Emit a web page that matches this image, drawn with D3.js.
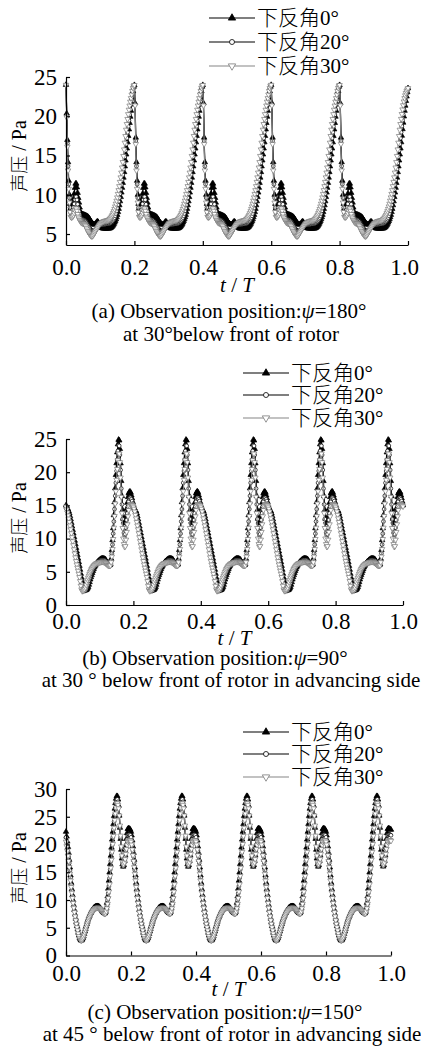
<!DOCTYPE html>
<html>
<meta charset="utf-8">
<script src="https://d3js.org/d3.v7.min.js"></script>
<style>
  body { margin: 0; background: #fff; }
  svg text { font-family: "Liberation Serif", "Times New Roman", serif; fill: #000; }
  svg .cjk { font-family: "Noto Sans CJK SC", sans-serif; font-weight: 300; }
</style>
<body>
<script>

// ---- data (t / T and sound pressure in Pa) ----
var legendNames = ["下反角0°", "下反角20°", "下反角30°"];
var xTicks = [0, 0.2, 0.4, 0.6, 0.8, 1.0];

// (a) psi = 180
var tA = [0, .005, .01, .015, .022, .029, .036, .044, .055, .066, .076, .084, .092, .1, .11, .125, .14, .152, .165, .178, .19,
  .2, .205, .21, .215, .222, .229, .236, .244, .255, .266, .276, .284, .292, .3, .31, .325, .34, .352, .365, .378, .39,
  .4, .405, .41, .415, .422, .429, .436, .444, .455, .466, .476, .484, .492, .5, .51, .525, .54, .552, .565, .578, .59,
  .6, .605, .61, .615, .622, .629, .636, .644, .655, .666, .676, .684, .692, .7, .71, .725, .74, .752, .765, .778, .79,
  .8, .805, .81, .815, .822, .829, .836, .844, .855, .866, .876, .884, .892, .9, .91, .925, .94, .952, .965, .978, .99,
  1.0];
var pA0 = [24.0, 15.5, 10.0, 8.2, 9.5, 11.5, 9.6, 7.6, 7.4, 7.1, 6.4, 6.2, 6.6, 6.0, 5.7, 5.7, 6.3, 7.8, 11.2, 15.9, 20.7,
  24.0, 15.5, 10.0, 8.2, 9.5, 11.5, 9.6, 7.6, 7.4, 7.1, 6.4, 6.2, 6.6, 6.0, 5.7, 5.7, 6.3, 7.8, 11.2, 15.9, 20.7,
  24.0, 15.5, 10.0, 8.2, 9.5, 11.5, 9.6, 7.6, 7.4, 7.1, 6.4, 6.2, 6.6, 6.0, 5.7, 5.7, 6.3, 7.8, 11.2, 15.9, 20.7,
  24.0, 15.5, 10.0, 8.2, 9.5, 11.5, 9.6, 7.6, 7.4, 7.1, 6.4, 6.2, 6.6, 6.0, 5.7, 5.7, 6.3, 7.8, 11.2, 15.9, 20.7,
  24.0, 15.5, 10.0, 8.2, 9.5, 11.5, 9.6, 7.6, 7.4, 7.1, 6.4, 6.2, 6.6, 6.0, 5.7, 5.7, 6.3, 7.8, 11.2, 15.9, 20.7,
  23.6];
var pA20 = [24.0, 15.0, 9.6, 7.6, 8.4, 9.8, 8.3, 7.0, 6.7, 6.0, 5.4, 5.4, 5.9, 6.1, 6.2, 6.3, 6.9, 8.7, 12.2, 17.2, 21.5,
  24.0, 15.0, 9.6, 7.6, 8.4, 9.8, 8.3, 7.0, 6.7, 6.0, 5.4, 5.4, 5.9, 6.1, 6.2, 6.3, 6.9, 8.7, 12.2, 17.2, 21.5,
  24.0, 15.0, 9.6, 7.6, 8.4, 9.8, 8.3, 7.0, 6.7, 6.0, 5.4, 5.4, 5.9, 6.1, 6.2, 6.3, 6.9, 8.7, 12.2, 17.2, 21.5,
  24.0, 15.0, 9.6, 7.6, 8.4, 9.8, 8.3, 7.0, 6.7, 6.0, 5.4, 5.4, 5.9, 6.1, 6.2, 6.3, 6.9, 8.7, 12.2, 17.2, 21.5,
  24.0, 15.0, 9.6, 7.6, 8.4, 9.8, 8.3, 7.0, 6.7, 6.0, 5.4, 5.4, 5.9, 6.1, 6.2, 6.3, 6.9, 8.7, 12.2, 17.2, 21.5,
  23.6];
var pA30 = [24.0, 14.5, 9.0, 7.1, 7.4, 8.3, 7.2, 6.5, 6.2, 5.2, 4.7, 5.2, 5.8, 6.3, 6.6, 6.8, 7.9, 10.1, 13.8, 19.0, 22.3,
  24.0, 14.5, 9.0, 7.1, 7.4, 8.3, 7.2, 6.5, 6.2, 5.2, 4.7, 5.2, 5.8, 6.3, 6.6, 6.8, 7.9, 10.1, 13.8, 19.0, 22.3,
  24.0, 14.5, 9.0, 7.1, 7.4, 8.3, 7.2, 6.5, 6.2, 5.2, 4.7, 5.2, 5.8, 6.3, 6.6, 6.8, 7.9, 10.1, 13.8, 19.0, 22.3,
  24.0, 14.5, 9.0, 7.1, 7.4, 8.3, 7.2, 6.5, 6.2, 5.2, 4.7, 5.2, 5.8, 6.3, 6.6, 6.8, 7.9, 10.1, 13.8, 19.0, 22.3,
  24.0, 14.5, 9.0, 7.1, 7.4, 8.3, 7.2, 6.5, 6.2, 5.2, 4.7, 5.2, 5.8, 6.3, 6.6, 6.8, 7.9, 10.1, 13.8, 19.0, 22.3,
  23.6];

// (b) psi = 90
var tB = [0, .01, .02, .03, .04, .048, .056, .064, .074, .086, .098, .108, .116, .124, .131, .137, .143, .149, .154, .157, .16, .165, .17, .175, .18, .186, .19, .195,
  .2, .21, .22, .23, .24, .248, .256, .264, .274, .286, .298, .308, .316, .324, .331, .337, .343, .349, .354, .357, .36, .365, .37, .375, .38, .386, .39, .395,
  .4, .41, .42, .43, .44, .448, .456, .464, .474, .486, .498, .508, .516, .524, .531, .537, .543, .549, .554, .557, .56, .565, .57, .575, .58, .586, .59, .595,
  .6, .61, .62, .63, .64, .648, .656, .664, .674, .686, .698, .708, .716, .724, .731, .737, .743, .749, .754, .757, .76, .765, .77, .775, .78, .786, .79, .795,
  .8, .81, .82, .83, .84, .848, .856, .864, .874, .886, .898, .908, .916, .924, .931, .937, .943, .949, .954, .957, .96, .965, .97, .975, .98, .986, .99, .995,
  1.0];
var pB0 = [15.0, 13.8, 11.3, 8.6, 5.9, 3.6, 2.2, 2.5, 4.2, 5.9, 6.7, 7.0, 6.9, 6.2, 6.0, 9.0, 14.5, 20.5, 24.2, 25.0, 23.5, 17.5, 13.0, 12.3, 14.5, 16.8, 17.1, 16.3,
  15.0, 13.8, 11.3, 8.6, 5.9, 3.6, 2.2, 2.5, 4.2, 5.9, 6.7, 7.0, 6.9, 6.2, 6.0, 9.0, 14.5, 20.5, 24.2, 25.0, 23.5, 17.5, 13.0, 12.3, 14.5, 16.8, 17.1, 16.3,
  15.0, 13.8, 11.3, 8.6, 5.9, 3.6, 2.2, 2.5, 4.2, 5.9, 6.7, 7.0, 6.9, 6.2, 6.0, 9.0, 14.5, 20.5, 24.2, 25.0, 23.5, 17.5, 13.0, 12.3, 14.5, 16.8, 17.1, 16.3,
  15.0, 13.8, 11.3, 8.6, 5.9, 3.6, 2.2, 2.5, 4.2, 5.9, 6.7, 7.0, 6.9, 6.2, 6.0, 9.0, 14.5, 20.5, 24.2, 25.0, 23.5, 17.5, 13.0, 12.3, 14.5, 16.8, 17.1, 16.3,
  15.0, 13.8, 11.3, 8.6, 5.9, 3.6, 2.2, 2.5, 4.2, 5.9, 6.7, 7.0, 6.9, 6.2, 6.0, 9.0, 14.5, 20.5, 24.2, 25.0, 23.5, 17.5, 13.0, 12.3, 14.5, 16.8, 17.1, 16.3,
  15.0];
var pB20 = [14.9, 13.2, 10.5, 7.6, 5.0, 2.8, 2.1, 3.0, 4.7, 6.0, 6.6, 6.8, 6.7, 6.1, 5.9, 8.4, 13.5, 19.3, 23.2, 24.2, 22.6, 16.3, 11.5, 10.5, 12.8, 15.6, 16.2, 15.8,
  14.9, 13.2, 10.5, 7.6, 5.0, 2.8, 2.1, 3.0, 4.7, 6.0, 6.6, 6.8, 6.7, 6.1, 5.9, 8.4, 13.5, 19.3, 23.2, 24.2, 22.6, 16.3, 11.5, 10.5, 12.8, 15.6, 16.2, 15.8,
  14.9, 13.2, 10.5, 7.6, 5.0, 2.8, 2.1, 3.0, 4.7, 6.0, 6.6, 6.8, 6.7, 6.1, 5.9, 8.4, 13.5, 19.3, 23.2, 24.2, 22.6, 16.3, 11.5, 10.5, 12.8, 15.6, 16.2, 15.8,
  14.9, 13.2, 10.5, 7.6, 5.0, 2.8, 2.1, 3.0, 4.7, 6.0, 6.6, 6.8, 6.7, 6.1, 5.9, 8.4, 13.5, 19.3, 23.2, 24.2, 22.6, 16.3, 11.5, 10.5, 12.8, 15.6, 16.2, 15.8,
  14.9, 13.2, 10.5, 7.6, 5.0, 2.8, 2.1, 3.0, 4.7, 6.0, 6.6, 6.8, 6.7, 6.1, 5.9, 8.4, 13.5, 19.3, 23.2, 24.2, 22.6, 16.3, 11.5, 10.5, 12.8, 15.6, 16.2, 15.8,
  14.9];
var pB30 = [14.8, 12.5, 9.6, 6.6, 4.2, 2.1, 2.4, 3.8, 5.2, 6.1, 6.4, 6.5, 6.4, 6.0, 5.9, 7.8, 12.5, 18.0, 21.8, 23.0, 21.5, 15.0, 10.0, 8.7, 11.0, 14.3, 15.2, 15.1,
  14.8, 12.5, 9.6, 6.6, 4.2, 2.1, 2.4, 3.8, 5.2, 6.1, 6.4, 6.5, 6.4, 6.0, 5.9, 7.8, 12.5, 18.0, 21.8, 23.0, 21.5, 15.0, 10.0, 8.7, 11.0, 14.3, 15.2, 15.1,
  14.8, 12.5, 9.6, 6.6, 4.2, 2.1, 2.4, 3.8, 5.2, 6.1, 6.4, 6.5, 6.4, 6.0, 5.9, 7.8, 12.5, 18.0, 21.8, 23.0, 21.5, 15.0, 10.0, 8.7, 11.0, 14.3, 15.2, 15.1,
  14.8, 12.5, 9.6, 6.6, 4.2, 2.1, 2.4, 3.8, 5.2, 6.1, 6.4, 6.5, 6.4, 6.0, 5.9, 7.8, 12.5, 18.0, 21.8, 23.0, 21.5, 15.0, 10.0, 8.7, 11.0, 14.3, 15.2, 15.1,
  14.8, 12.5, 9.6, 6.6, 4.2, 2.1, 2.4, 3.8, 5.2, 6.1, 6.4, 6.5, 6.4, 6.0, 5.9, 7.8, 12.5, 18.0, 21.8, 23.0, 21.5, 15.0, 10.0, 8.7, 11.0, 14.3, 15.2, 15.1,
  14.8];

// (c) psi = 150
var tC = [0, .008, .017, .026, .035, .042, .047, .053, .06, .068, .078, .088, .097, .105, .112, .12, .126, .132, .138, .145, .151, .157, .162, .167, .172, .176, .181, .186, .191, .196,
  .2, .208, .217, .226, .235, .242, .247, .253, .26, .268, .278, .288, .297, .305, .312, .32, .326, .332, .338, .345, .351, .357, .362, .367, .372, .376, .381, .386, .391, .396,
  .4, .408, .417, .426, .435, .442, .447, .453, .46, .468, .478, .488, .497, .505, .512, .52, .526, .532, .538, .545, .551, .557, .562, .567, .572, .576, .581, .586, .591, .596,
  .6, .608, .617, .626, .635, .642, .647, .653, .66, .668, .678, .688, .697, .705, .712, .72, .726, .732, .738, .745, .751, .757, .762, .767, .772, .776, .781, .786, .791, .796,
  .8, .808, .817, .826, .835, .842, .847, .853, .86, .868, .878, .888, .897, .905, .912, .92, .926, .932, .938, .945, .951, .957, .962, .967, .972, .976, .981, .986, .991, .996,
  1.0];
var pC0 = [22.3, 18.5, 12.5, 8.2, 5.0, 3.2, 2.7, 3.3, 4.8, 6.5, 7.9, 8.7, 8.9, 8.6, 8.0, 7.6, 9.5, 13.5, 18.0, 23.0, 27.0, 28.8, 27.0, 22.0, 17.5, 16.0, 17.5, 21.0, 22.9, 22.8,
  22.3, 18.5, 12.5, 8.2, 5.0, 3.2, 2.7, 3.3, 4.8, 6.5, 7.9, 8.7, 8.9, 8.6, 8.0, 7.6, 9.5, 13.5, 18.0, 23.0, 27.0, 28.8, 27.0, 22.0, 17.5, 16.0, 17.5, 21.0, 22.9, 22.8,
  22.3, 18.5, 12.5, 8.2, 5.0, 3.2, 2.7, 3.3, 4.8, 6.5, 7.9, 8.7, 8.9, 8.6, 8.0, 7.6, 9.5, 13.5, 18.0, 23.0, 27.0, 28.8, 27.0, 22.0, 17.5, 16.0, 17.5, 21.0, 22.9, 22.8,
  22.3, 18.5, 12.5, 8.2, 5.0, 3.2, 2.7, 3.3, 4.8, 6.5, 7.9, 8.7, 8.9, 8.6, 8.0, 7.6, 9.5, 13.5, 18.0, 23.0, 27.0, 28.8, 27.0, 22.0, 17.5, 16.0, 17.5, 21.0, 22.9, 22.8,
  22.3, 18.5, 12.5, 8.2, 5.0, 3.2, 2.7, 3.3, 4.8, 6.5, 7.9, 8.7, 8.9, 8.6, 8.0, 7.6, 9.5, 13.5, 18.0, 23.0, 27.0, 28.8, 27.0, 22.0, 17.5, 16.0, 17.5, 21.0, 22.9, 22.8,
  22.6];
var pC20 = [21.3, 17.8, 12.2, 8.0, 4.9, 3.1, 2.7, 3.2, 4.7, 6.3, 7.7, 8.5, 8.7, 8.5, 7.9, 7.5, 9.0, 12.5, 17.0, 22.0, 26.0, 28.2, 26.8, 22.2, 17.8, 16.1, 17.2, 20.0, 21.8, 21.8,
  21.3, 17.8, 12.2, 8.0, 4.9, 3.1, 2.7, 3.2, 4.7, 6.3, 7.7, 8.5, 8.7, 8.5, 7.9, 7.5, 9.0, 12.5, 17.0, 22.0, 26.0, 28.2, 26.8, 22.2, 17.8, 16.1, 17.2, 20.0, 21.8, 21.8,
  21.3, 17.8, 12.2, 8.0, 4.9, 3.1, 2.7, 3.2, 4.7, 6.3, 7.7, 8.5, 8.7, 8.5, 7.9, 7.5, 9.0, 12.5, 17.0, 22.0, 26.0, 28.2, 26.8, 22.2, 17.8, 16.1, 17.2, 20.0, 21.8, 21.8,
  21.3, 17.8, 12.2, 8.0, 4.9, 3.1, 2.7, 3.2, 4.7, 6.3, 7.7, 8.5, 8.7, 8.5, 7.9, 7.5, 9.0, 12.5, 17.0, 22.0, 26.0, 28.2, 26.8, 22.2, 17.8, 16.1, 17.2, 20.0, 21.8, 21.8,
  21.3, 17.8, 12.2, 8.0, 4.9, 3.1, 2.7, 3.2, 4.7, 6.3, 7.7, 8.5, 8.7, 8.5, 7.9, 7.5, 9.0, 12.5, 17.0, 22.0, 26.0, 28.2, 26.8, 22.2, 17.8, 16.1, 17.2, 20.0, 21.8, 21.8,
  21.6];
var pC30 = [20.5, 17.0, 11.8, 7.8, 4.8, 3.1, 2.7, 3.2, 4.6, 6.2, 7.6, 8.4, 8.6, 8.4, 7.9, 7.5, 8.5, 11.5, 15.8, 20.8, 25.0, 27.5, 26.5, 22.5, 18.0, 16.3, 17.0, 19.2, 20.6, 20.8,
  20.5, 17.0, 11.8, 7.8, 4.8, 3.1, 2.7, 3.2, 4.6, 6.2, 7.6, 8.4, 8.6, 8.4, 7.9, 7.5, 8.5, 11.5, 15.8, 20.8, 25.0, 27.5, 26.5, 22.5, 18.0, 16.3, 17.0, 19.2, 20.6, 20.8,
  20.5, 17.0, 11.8, 7.8, 4.8, 3.1, 2.7, 3.2, 4.6, 6.2, 7.6, 8.4, 8.6, 8.4, 7.9, 7.5, 8.5, 11.5, 15.8, 20.8, 25.0, 27.5, 26.5, 22.5, 18.0, 16.3, 17.0, 19.2, 20.6, 20.8,
  20.5, 17.0, 11.8, 7.8, 4.8, 3.1, 2.7, 3.2, 4.6, 6.2, 7.6, 8.4, 8.6, 8.4, 7.9, 7.5, 8.5, 11.5, 15.8, 20.8, 25.0, 27.5, 26.5, 22.5, 18.0, 16.3, 17.0, 19.2, 20.6, 20.8,
  20.5, 17.0, 11.8, 7.8, 4.8, 3.1, 2.7, 3.2, 4.6, 6.2, 7.6, 8.4, 8.6, 8.4, 7.9, 7.5, 8.5, 11.5, 15.8, 20.8, 25.0, 27.5, 26.5, 22.5, 18.0, 16.3, 17.0, 19.2, 20.6, 20.8,
  20.6];

// ---- layout of the three panels ----
var panels = [
  { t: tA, series: [pA0, pA20, pA30], x0: 66, x1: 408, yTop: 77, yBot: 245, yDom: [3.6, 25], yTicks: [5, 10, 15, 20, 25],
    legX: 209, legY: [18, 42, 66], ylabY: 156, tickY: 275, xlabY: 292,
    cap1: ["(a) Observation position:", "180°"], cap2: "at 30°below front of rotor", capY: [318, 341], capX: [229, 231] },
  { t: tB, series: [pB0, pB20, pB30], x0: 66, x1: 403, yTop: 439, yBot: 605, yDom: [0, 25], yTicks: [0, 5, 10, 15, 20, 25],
    legX: 243, legY: [373, 395, 418], ylabY: 518, tickY: 629, xlabY: 645,
    cap1: ["(b) Observation position:", "90°"], cap2: "at 30 ° below front of rotor in advancing side", capY: [665, 687], capX: [215, 231] },
  { t: tC, series: [pC0, pC20, pC30], x0: 66, x1: 391, yTop: 789, yBot: 955.5, yDom: [0, 30], yTicks: [0, 5, 10, 15, 20, 25, 30],
    legX: 243, legY: [732, 754, 777], ylabY: 868, tickY: 981, xlabY: 996,
    cap1: ["(c) Observation position:", "150°"], cap2: "at 45 ° below front of rotor in advancing side", capY: [1019, 1041], capX: [225, 232] }
];

var styles = [
  { line: "#000", sym: d3.symbolTriangle, rot: 0, fill: "#000", stroke: "#000", size: 13 },
  { line: "#000", sym: d3.symbolCircle, rot: 0, fill: "#fff", stroke: "#000", size: 11 },
  { line: "#858585", sym: d3.symbolTriangle, rot: 180, fill: "#fff", stroke: "#7a7a7a", size: 13 }
];

var svg = d3.select("body").append("svg")
  .attr("width", 421)
  .attr("height", 1049);

// markers sit at evenly spaced t along the drawn curve (like the densely sampled original)
var markerT = d3.range(0, 1.0001, 0.002);

function markerPositions(pathNode, xs) {
  var L = pathNode.getTotalLength();
  var pts = [];
  for (var s = 0; s <= L; s += 0.5) pts.push(pathNode.getPointAtLength(s));
  var out = [], j = 0;
  xs.forEach(function(x) {
    while (j < pts.length - 2 && pts[j + 1].x < x) j++;
    var a = pts[j], b = pts[j + 1];
    if (!b) return;
    var f = b.x === a.x ? 0 : (x - a.x) / (b.x - a.x);
    f = Math.max(0, Math.min(1, f));
    out.push([x, a.y + (b.y - a.y) * f]);
  });
  return out;
}

panels.forEach(function(p) {
  var x = d3.scaleLinear().domain([0, 1]).range([p.x0, p.x1]);
  var y = d3.scaleLinear().domain(p.yDom).range([p.yBot, p.yTop]);
  var g = svg.append("g");

  // curves
  p.series.forEach(function(vals, i) {
    var st = styles[i];
    var data = p.t.map(function(t, k) { return [t, vals[k]]; });
    var line = d3.line()
      .x(function(d) { return x(d[0]); })
      .y(function(d) { return y(d[1]); })
      .curve(d3.curveMonotoneX);
    var path = g.append("path")
      .datum(data)
      .attr("d", line)
      .attr("fill", "none")
      .attr("stroke", st.line)
      .attr("stroke-width", 1.2);

    var mk = markerPositions(path.node(), markerT.map(x));
    g.append("g").selectAll("path")
      .data(mk)
      .enter().append("path")
      .attr("d", d3.symbol().type(st.sym).size(st.size))
      .attr("transform", function(d) { return "translate(" + d[0] + "," + d[1] + ") rotate(" + st.rot + ")"; })
      .attr("fill", st.fill)
      .attr("stroke", st.stroke)
      .attr("stroke-width", 0.7);
  });

  // axes, ticks pointing inwards
  var xAxis = d3.axisBottom(x).tickValues(xTicks).tickFormat(d3.format(".1f"))
    .tickSizeInner(-4).tickSizeOuter(0).tickPadding(0);
  var gx = g.append("g").attr("transform", "translate(0," + p.yBot + ")").call(xAxis);
  gx.selectAll("text").attr("y", p.tickY - p.yBot).attr("dy", null);

  var yAxis = d3.axisLeft(y).tickValues(p.yTicks)
    .tickSizeInner(-4).tickSizeOuter(0).tickPadding(9);
  var gy = g.append("g").attr("transform", "translate(" + p.x0 + ",0)").call(yAxis);
  g.selectAll("g").attr("font-family", null).attr("font-size", null);
  g.selectAll(".domain, .tick line").attr("stroke", "#000").attr("stroke-width", 1.2);
  g.selectAll(".tick text").attr("fill", "#000")
    .style("font-family", "'Liberation Serif', serif").style("font-size", "23px");

  // keep the last x label inside the picture, as the original does
  gx.selectAll(".tick").each(function() {
    var tick = d3.select(this);
    var txt = tick.select("text");
    var tr = tick.attr("transform").match(/translate\(([^,]+)/);
    var cx = +tr[1];
    var half = txt.node().getComputedTextLength() / 2;
    if (cx + half > 419) txt.attr("x", 419 - half - cx);
  });

  // axis titles
  var yl = g.append("text")
    .attr("transform", "translate(26," + p.ylabY + ") rotate(-90)")
    .attr("text-anchor", "middle");
  yl.append("tspan").attr("class", "cjk").style("font-size", "18px").text("声压");
  yl.append("tspan").style("font-size", "20px").text(" / Pa");

  var xl = g.append("text")
    .attr("x", (p.x0 + p.x1) / 2)
    .attr("y", p.xlabY)
    .attr("text-anchor", "middle")
    .style("font-size", "21px");
  xl.append("tspan").style("font-style", "italic").text("t");
  xl.append("tspan").text(" / ");
  xl.append("tspan").style("font-style", "italic").text("T");

  // captions
  var c1 = g.append("text").attr("x", p.capX[0]).attr("y", p.capY[0])
    .attr("text-anchor", "middle").style("font-size", "21px");
  c1.append("tspan").text(p.cap1[0]);
  c1.append("tspan").style("font-style", "italic").text("ψ");
  c1.append("tspan").text("=" + p.cap1[1]);
  g.append("text").attr("x", p.capX[1]).attr("y", p.capY[1])
    .attr("text-anchor", "middle").style("font-size", "21px")
    .text(p.cap2);

  // legend
  legendNames.forEach(function(name, i) {
    var st = styles[i];
    var ly = p.legY[i];
    g.append("line")
      .attr("x1", p.legX).attr("x2", p.legX + 46)
      .attr("y1", ly).attr("y2", ly)
      .attr("stroke", st.line).attr("stroke-width", 1.2);
    g.append("path")
      .attr("d", d3.symbol().type(st.sym).size(st.size * 1.8))
      .attr("transform", "translate(" + (p.legX + 23) + "," + ly + ") rotate(" + st.rot + ")")
      .attr("fill", st.fill).attr("stroke", st.stroke).attr("stroke-width", 0.8);
    var lt = g.append("text")
      .attr("x", p.legX + 48).attr("y", ly + 7)
      .style("font-size", "21px");
    lt.append("tspan").attr("class", "cjk").text(name.slice(0, 3));
    lt.append("tspan").text(name.slice(3));
  });
});

</script>
</body>
</html>
